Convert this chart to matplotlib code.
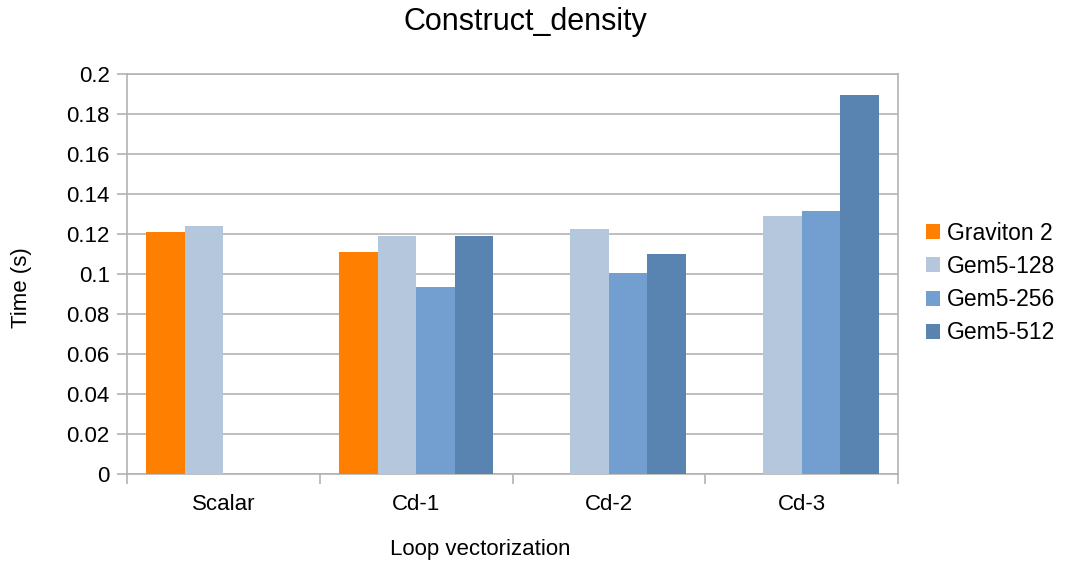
import numpy as np
import matplotlib
matplotlib.use("Agg")
import matplotlib.pyplot as plt
from matplotlib.patches import Patch

plt.rcParams['font.family'] = ['Liberation Sans', 'DejaVu Sans']

categories = ["Scalar", "Cd-1", "Cd-2", "Cd-3"]
series_names = ["Graviton 2", "Gem5-128", "Gem5-256", "Gem5-512"]
graviton2 = [0.1207, 0.1108, np.nan, np.nan]
gem5_128 = [0.1237, 0.1188, 0.1223, 0.1290]
gem5_256 = [np.nan, 0.0935, 0.1003, 0.1313]
gem5_512 = [np.nan, 0.1188, 0.1097, 0.1892]
colors = ["#ff8000", "#b4c7dc", "#729fcf", "#5983b0"]
y_ticks = [0, 0.02, 0.04, 0.06, 0.08, 0.1, 0.12, 0.14, 0.16, 0.18, 0.2]
y_tick_labels = ["0", "0.02", "0.04", "0.06", "0.08", "0.1", "0.12", "0.14", "0.16", "0.18", "0.2"]

W, H = 1065, 563
fig = plt.figure(figsize=(W / 100, H / 100), dpi=100)
left, right, top, bottom = 127, 898, 73.5, 473.5
ax = fig.add_axes([left / W, 1 - bottom / H, (right - left) / W, (bottom - top) / H])

grid_c = "#b3b3b3"
x = np.arange(len(categories))
bw = 0.2
for i, (vals, c) in enumerate(zip([graviton2, gem5_128, gem5_256, gem5_512], colors)):
    ax.bar(x + (i - 1.5) * bw, vals, width=bw, color=c, zorder=3, linewidth=0)

ax.set_xlim(-0.5, len(categories) - 0.5)
ax.set_ylim(0, 0.2)
ax.set_yticks(y_ticks)
ax.set_yticklabels(y_tick_labels)
ax.yaxis.grid(True, color=grid_c, linewidth=1.2, zorder=0)
ax.set_axisbelow(True)

ax.set_xticks(x)
ax.set_xticklabels(categories)
ax.set_xticks(np.arange(len(categories) + 1) - 0.5, minor=True)
ax.tick_params(axis='x', which='major', length=0, pad=15, labelsize=16, labelcolor="#000000")
ax.tick_params(axis='x', which='minor', length=7.5, color=grid_c, width=1.2)
ax.tick_params(axis='y', length=7.5, color=grid_c, width=1.2, labelsize=16, pad=5)

for s in ax.spines.values():
    s.set_color(grid_c)
    s.set_linewidth(1.2)

pw, ph = right - left, bottom - top
ax.set_title("Construct_density", fontsize=22, x=(525 - left) / pw, y=(bottom - 22) / ph,
             va='center', pad=0)
ax.set_ylabel("Time (s)", fontsize=16, va='center', ha='center')
ax.yaxis.set_label_coords((21.5 - left) / pw, (bottom - 288) / ph)
ax.set_xlabel("Loop vectorization", fontsize=16, va='center', ha='center')
ax.xaxis.set_label_coords((480 - left) / pw, -(549 - bottom) / ph)

handles = [Patch(facecolor=c, edgecolor='none') for c in colors]
fig.legend(handles, series_names, loc='center left', bbox_to_anchor=(926 / W, 1 - 283 / H),
           frameon=False, fontsize=16.5, handlelength=0.62, handleheight=0.62,
           handletextpad=0.31, labelspacing=0.45, borderpad=0, borderaxespad=0)

fig.savefig("out.png", dpi=100)
